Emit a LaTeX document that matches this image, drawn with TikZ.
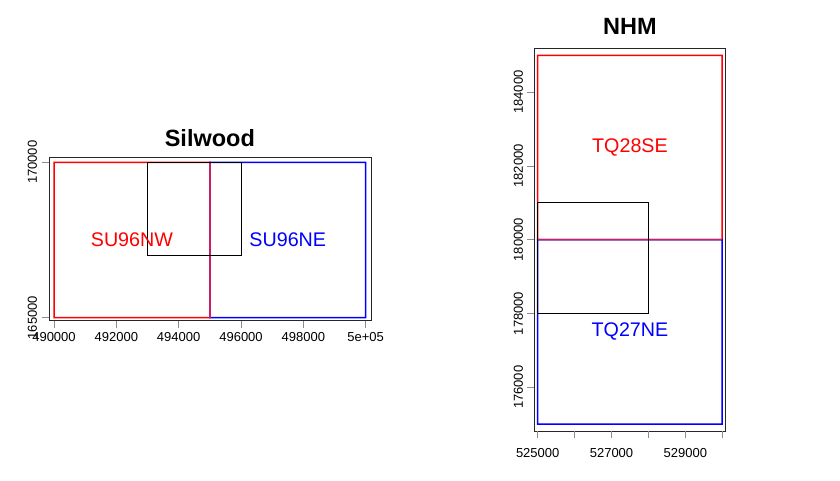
\documentclass[tikz,border=0pt]{standalone}
\usepackage{fontspec}
\setmainfont{Liberation Sans}
\usepackage{tikz}
\usetikzlibrary{positioning}
\definecolor{TRed}{RGB}{255,0,0}
\definecolor{TBlue}{RGB}{0,0,255}
\definecolor{TMix}{RGB}{200,30,100}
\newcommand{\tilehw}{0.75pt}
\tikzset{
  % Plot frame
  frm/.style={draw, color=black!85, line width=0.8pt},
  % Grid tile outline, as a filled ring
  ring/.style={fill=#1, even odd rule},
  % Study area box
  studybox/.style={draw, color=black, line width=1pt},
  % Axis tick
  tck/.style={draw, color=black!45, line width=0.8pt},
  % Tick label
  tlbl/.style={font=\fontsize{13}{13}\selectfont, inner sep=0pt},
  % Tile label
  nm/.style={font=\fontsize{19.7}{20}\selectfont, text=#1, inner sep=0pt},
  % Panel title
  ttl/.style={font=\fontsize{23.5}{24}\selectfont\bfseries, inner sep=0pt}
}

\begin{document}
\begin{tikzpicture}[x=1pt, y=-1pt]
  \useasboundingbox (0,0) rectangle (840,480);

  % Silwood panel
  \begin{scope}[shift={(54,317.7)}, x=31.17pt, y=31.08pt]
    \fill[ring=TRed]
      ([xshift=-\tilehw,yshift=-\tilehw]0,0) rectangle ([xshift=\tilehw,yshift=\tilehw]5,5)
      ([xshift=\tilehw,yshift=\tilehw]0,0) rectangle ([xshift=-\tilehw,yshift=-\tilehw]5,5);
    \fill[ring=TBlue]
      ([xshift=-\tilehw,yshift=-\tilehw]5,0) rectangle ([xshift=\tilehw,yshift=\tilehw]10,5)
      ([xshift=\tilehw,yshift=\tilehw]5,0) rectangle ([xshift=-\tilehw,yshift=-\tilehw]10,5);
    \fill[TMix] ([xshift=-\tilehw]5,0) rectangle ([xshift=\tilehw]5,5);
    \draw[studybox] (3,2) rectangle (6,5);
    \draw[frm] (-0.15,-0.1) rectangle (10.17,5.15);
    \foreach \k/\v in {0/490000,2/492000,4/494000,6/496000,8/498000,10/5e+05}{
      \draw[tck] (\k,-0.1) -- ++(0pt,-7pt);
      \node[tlbl, yshift=-16pt] (sx\k) at (\k,-0.1) {\v};
    }
    \foreach \k/\v in {0/165000,5/170000}{
      \draw[tck] (-0.15,\k) -- ++(-7pt,0pt);
      \node[tlbl, xshift=-17pt, rotate=90] (sy\k) at (-0.15,\k) {\v};
    }
    \node[nm=TRed]  (nw) at (2.5,2.5) {SU96NW};
    \node[nm=TBlue] (ne) at (7.5,2.5) {SU96NE};
    \node[ttl] (silwood) at (5,5.78) {Silwood};
  \end{scope}

  % NHM panel
  \begin{scope}[shift={(537.7,239.7)}, x=36.9pt, y=36.88pt]
    \fill[ring=TRed]
      ([xshift=-\tilehw,yshift=-\tilehw]0,0) rectangle ([xshift=\tilehw,yshift=\tilehw]5,5)
      ([xshift=\tilehw,yshift=\tilehw]0,0) rectangle ([xshift=-\tilehw,yshift=-\tilehw]5,5);
    \fill[ring=TBlue]
      ([xshift=-\tilehw,yshift=-\tilehw]0,-5) rectangle ([xshift=\tilehw,yshift=\tilehw]5,0)
      ([xshift=\tilehw,yshift=\tilehw]0,-5) rectangle ([xshift=-\tilehw,yshift=-\tilehw]5,0);
    \fill[TMix] ([yshift=-\tilehw]0,0) rectangle ([yshift=\tilehw]5,0);
    \draw[studybox] (0,-2) rectangle (3,1);
    \draw[frm] (-0.092,-5.19) rectangle (5.095,5.19);
    \foreach \k in {0,...,5}
      \draw[tck] (\k,-5.19) -- ++(0pt,-7pt);
    \foreach \k/\v in {0/525000,2/527000,4/529000}
      \node[tlbl, yshift=-21.7pt] (nx\k) at (\k,-5.19) {\v};
    \foreach \k/\v in {-4/176000,-2/178000,0/180000,2/182000,4/184000}{
      \draw[tck] (-0.092,\k) -- ++(-7pt,0pt);
      \node[tlbl, xshift=-16pt, rotate=90] (ny\k) at (-0.092,\k) {\v};
    }
    \node[nm=TRed]  (se) at (2.5,2.5) {TQ28SE};
    \node[nm=TBlue] (ne2) at (2.5,-2.5) {TQ27NE};
    \node[ttl] (nhm) at (2.5,5.77) {NHM};
  \end{scope}
\end{tikzpicture}
\end{document}
